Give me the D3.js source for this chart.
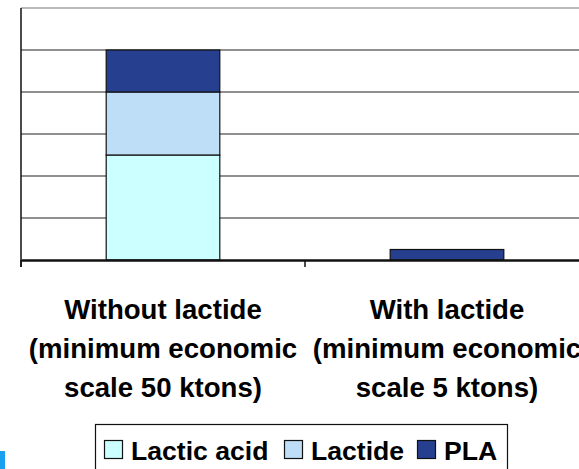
<!DOCTYPE html>
<html>
<head>
<meta charset="utf-8">
<script src="https://cdn.jsdelivr.net/npm/d3@7"></script>
<style>
html,body{margin:0;padding:0;background:#fff;overflow:hidden;}
svg{display:block;}
text{font-family:"Liberation Sans",Arial,sans-serif;font-weight:bold;fill:#000;}
</style>
</head>
<body>
<svg id="chart" width="579" height="469"></svg>
<script>
const categories = ["Without lactide", "With lactide"];
const categoryLabels = [
  ["Without lactide", "(minimum economic", "scale 50 ktons)"],
  ["With lactide", "(minimum economic", "scale 5 ktons)"]
];
const seriesNames = ["Lactic acid", "Lactide", "PLA"];
const lacticAcid = [2.5, 0];
const lactide = [1.5, 0];
const pla = [1.0, 0.25];
const seriesColors = ["#CCFFFF", "#BDDEF6", "#26408F"];
const yTicks = [0, 1, 2, 3, 4, 5, 6];

const svg = d3.select("#chart");
const plotLeft = 21, plotRight = 589, plotTop = 8, plotBottom = 260;

const x = d3.scaleBand().domain(categories).range([plotLeft, plotRight]).padding(0);
const y = d3.scaleLinear().domain([0, 6]).range([plotBottom, plotTop]);

// gridlines
svg.append("g")
  .selectAll("line").data(yTicks.slice(1)).join("line")
  .attr("x1", plotLeft).attr("x2", plotRight)
  .attr("y1", d => y(d)).attr("y2", d => y(d))
  .attr("stroke", d => d === 6 ? "#777" : "#222").attr("stroke-width", 1.2);

// stacked bars
const table = categories.map((c, i) => ({cat: c, "Lactic acid": lacticAcid[i], "Lactide": lactide[i], "PLA": pla[i]}));
const stack = d3.stack().keys(seriesNames)(table);
const bw = x.bandwidth();
svg.append("g").selectAll("g").data(stack).join("g")
  .attr("fill", (d, i) => seriesColors[i])
  .selectAll("rect").data(d => d.filter(p => p[1] - p[0] > 0)).join("rect")
  .attr("x", d => x(d.data.cat) + bw * 0.3)
  .attr("width", bw * 0.4)
  .attr("y", d => y(d[1]))
  .attr("height", d => y(d[0]) - y(d[1]))
  .attr("stroke", "#111").attr("stroke-width", 1.2);

// left axis line
svg.append("line").attr("x1", plotLeft).attr("x2", plotLeft).attr("y1", plotTop).attr("y2", plotBottom + 7)
  .attr("stroke", "#111").attr("stroke-width", 1.5);

// x axis
const xAxis = d3.axisBottom(x).tickSize(0).tickFormat("");
const gx = svg.append("g").attr("transform", `translate(0,${plotBottom})`).call(xAxis);
gx.select(".domain").attr("stroke", "#111").attr("stroke-width", 2.4);
// category boundary ticks
const bounds = categories.map(c => x(c)).concat([plotRight]);
svg.append("g").selectAll("line").data(bounds).join("line")
  .attr("x1", d => d).attr("x2", d => d).attr("y1", plotBottom).attr("y2", plotBottom + 7)
  .attr("stroke", "#111").attr("stroke-width", 1.5);

// category labels
const baselines = [319, 358, 397];
categories.forEach((c, i) => {
  const t = svg.append("text").attr("text-anchor", "middle").style("font-size", "27.6px");
  categoryLabels[i].forEach((ln, j) => {
    t.append("tspan").attr("x", x(c) + bw / 2).attr("y", baselines[j]).text(ln);
  });
});

// legend
const lg = svg.append("g");
lg.append("rect").attr("x", 95.5).attr("y", 424.5).attr("width", 412).attr("height", 60)
  .attr("fill", "#fff").attr("stroke", "#111").attr("stroke-width", 1.2);
const legendX = [104, 284, 417];
seriesNames.forEach((s, i) => {
  lg.append("rect").attr("x", legendX[i] + 0.5).attr("y", 440.5).attr("width", 18).attr("height", 18)
    .attr("fill", seriesColors[i]).attr("stroke", "#111").attr("stroke-width", 1.2);
  lg.append("text").attr("x", legendX[i] + 27).attr("y", 460).style("font-size", "26.6px").text(s);
});

// slide decoration piece at bottom-left
svg.append("rect").attr("x", 0).attr("y", 451).attr("width", 5).attr("height", 18).attr("fill", "#1AA0EE");
</script>
</body>
</html>
